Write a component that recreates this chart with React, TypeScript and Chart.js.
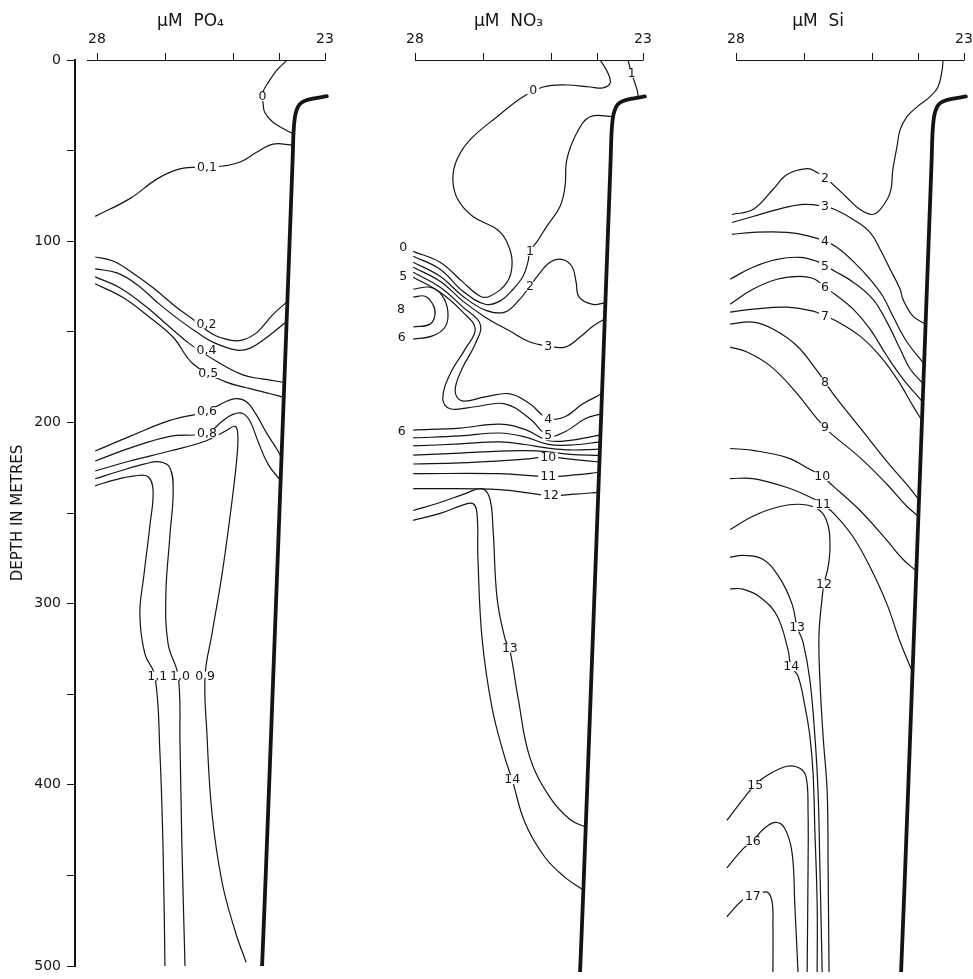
import React, { useEffect, useRef } from "react";
import { Chart, registerables } from "chart.js";

Chart.register(...registerables);

type Pt = [number, number];
type Lbl = { t: string; x: number; y: number };

const FONT = "'DejaVu Sans', 'Liberation Sans', sans-serif";
const INK = "#141414";

// ---- axes ----
const xTickValues = [28, 26.5, 25, 24, 23];
const xLabelled = [28, 23];
const depthTicks = [0, 50, 100, 150, 200, 250, 300, 350, 400, 450, 500];
const depthLabelled = [0, 100, 200, 300, 400, 500];

// ---- thick profile (same in every panel) ----
const profile: Pt[] = [
  [22.96, 20], [23.2, 21], [23.45, 22.6], [23.56, 24.5], [23.62, 27.5], [23.66, 31.5],
  [23.69, 40], [23.71, 55], [23.85, 150], [24.0, 250], [24.15, 350], [24.3, 450], [24.38, 500],
];

// ---- PO4 ----
const po4_0: Pt[] = [[23.83, 0], [24.05, 5.5], [24.25, 12.6], [24.36, 17.5], [24.37, 20.5], [24.36, 23.5], [24.32, 29], [24.14, 34.4], [23.88, 38.3], [23.68, 41]];
const po4_01: Pt[] = [[28.04, 86.3], [27.28, 76.5], [26.68, 65.6], [26.18, 60.1], [25.59, 59], [25.24, 58.5], [24.86, 56.3], [24.49, 50.8], [24.14, 46.4], [23.7, 47]];
const po4_02: Pt[] = [[28.04, 108.7], [27.65, 110.9], [27.28, 116.4], [26.77, 125.7], [26.25, 136.6], [25.89, 143.2], [25.46, 151.4], [25.08, 154.6], [24.82, 154.6], [24.49, 150.3], [24.14, 140.4], [23.8, 132.8]];
const po4_03: Pt[] = [[28.04, 115.3], [27.56, 117.5], [27.12, 124], [26.62, 135], [26.18, 143.7], [25.81, 150.3], [25.46, 155.7], [24.93, 160.1], [24.64, 159], [24.36, 154.6], [24.05, 148.6], [23.82, 143.7]];
const po4_04: Pt[] = [[28.04, 119.7], [27.5, 125.7], [26.9, 136.6], [26.4, 147.5], [25.96, 156.8], [25.35, 166.7], [24.8, 173.8], [24.38, 176], [23.87, 178]];
const po4_05: Pt[] = [[28.04, 123.5], [27.43, 131.1], [26.84, 142.1], [26.33, 153], [25.89, 167.8], [25.19, 177.5], [24.64, 181.4], [24.2, 184.2], [23.88, 186.3]];
const po4_06: Pt[] = [[28.04, 215.8], [27.28, 207.7], [26.4, 198.9], [25.59, 193.9], [25.26, 189.6], [24.97, 186.9], [24.73, 188.5], [24.51, 195.6], [24.29, 205.5], [24.03, 215.8], [23.95, 219.7]];
const po4_08: Pt[] = [[28.04, 221.3], [27.28, 214.2], [26.4, 207.7], [25.59, 206], [25.26, 199.5], [25.02, 195.6], [24.8, 195.1], [24.64, 199.5], [24.47, 210.4], [24.25, 223], [23.97, 232.2]];
const po4_09: Pt[] = [[28.04, 226.8], [27.28, 221.3], [26.4, 215.8], [25.63, 210.4], [25.19, 204.9], [24.97, 202.2], [24.91, 207.6], [24.95, 224], [25.08, 251.3], [25.26, 284.1], [25.48, 316.9], [25.63, 339.9], [25.59, 371.6], [25.48, 415.3], [25.26, 453.5], [24.97, 480.8], [24.73, 498]];
const po4_10: Pt[] = [[28.04, 231.1], [27.5, 226.8], [26.95, 222.9], [26.62, 221.8], [26.4, 225.1], [26.33, 237.7], [26.4, 262.3], [26.49, 295], [26.44, 322.4], [26.22, 339.9], [26.18, 377], [26.14, 431.7], [26.07, 500]];
const po4_11: Pt[] = [[28.04, 235], [27.61, 231.7], [27.17, 229.5], [26.88, 230], [26.77, 237.7], [26.84, 256.8], [26.97, 284.1], [27.06, 306], [26.95, 327.8], [26.73, 339.9], [26.62, 382.5], [26.55, 437.1], [26.51, 500]];
const po4Lines = [po4_0, po4_01, po4_02, po4_03, po4_04, po4_05, po4_06, po4_08, po4_09, po4_10, po4_11];
const po4Labels: Lbl[] = [
  { t: "0", x: 24.37, y: 20.2 }, { t: "0,1", x: 25.59, y: 59 }, { t: "0,2", x: 25.6, y: 145.7 },
  { t: "0,4", x: 25.6, y: 160.3 }, { t: "0,5", x: 25.56, y: 173 }, { t: "0,6", x: 25.59, y: 194 },
  { t: "0,8", x: 25.59, y: 206 }, { t: "1,1", x: 26.68, y: 340 }, { t: "1,0", x: 26.18, y: 340 },
  { t: "0,9", x: 25.63, y: 340 },
];

// ---- NO3 ----
const no3_0: Pt[] = [[23.94, 0], [23.77, 7.1], [23.72, 12.6], [23.88, 15.3], [24.16, 14.8], [24.67, 13.7], [25.19, 14.8], [25.63, 20.2], [26.2, 31.1], [26.79, 43.7], [27.08, 54.6], [27.17, 65.6], [27.06, 76.5], [26.73, 85.8], [26.2, 92.9], [25.98, 100], [25.87, 110.9], [25.98, 121.8], [26.36, 129.5], [26.57, 129.5], [26.95, 121.8], [27.45, 110.9], [28.04, 104.9]];
const no3_1a: Pt[] = [[23.33, 0], [23.25, 7.3], [23.13, 16.4], [23.1, 20.8]];
const no3_1b: Pt[] = [[23.64, 31], [24.16, 31.1], [24.45, 39.9], [24.67, 54.6], [24.71, 69.4], [24.82, 80.3], [25.11, 91.2], [25.32, 99.4], [25.48, 104.9], [25.52, 110.4], [25.63, 118.6], [25.85, 125.7], [26.14, 132.2], [26.46, 133.9], [26.95, 126.8], [27.45, 114.7], [28.04, 107.6]];
const no3_2: Pt[] = [[28.04, 110.9], [27.45, 118.6], [26.95, 129.5], [26.46, 137.1], [26.03, 138.2], [25.7, 131.1], [25.48, 124], [25.32, 118.6], [25.04, 110.9], [24.78, 109.3], [24.56, 113.1], [24.47, 121.3], [24.4, 130], [24.1, 134], [23.82, 133]];
const no3_3: Pt[] = [[28.04, 113.6], [27.45, 121.3], [26.95, 132.2], [26.46, 141], [25.92, 148.6], [25.48, 154.6], [25.08, 156.8], [24.71, 157.4], [24.38, 151.9], [24.1, 146], [23.84, 142]];
const no3_4: Pt[] = [[28.04, 116.4], [27.45, 124.6], [26.95, 135.5], [26.57, 144.8], [26.68, 155.7], [26.97, 169.4], [27.12, 181.4], [26.97, 186.9], [26.46, 184.7], [25.92, 183], [25.48, 188.5], [25.08, 196.7], [24.71, 195.6], [24.32, 188.5], [23.9, 183]];
const no3_5: Pt[] = [[28.04, 119.1], [27.45, 127.3], [26.95, 138.2], [26.68, 147.5], [26.9, 158.5], [27.23, 172.1], [27.39, 185.8], [27.23, 191.2], [26.68, 190.1], [26.03, 188.5], [25.48, 196.7], [25.08, 206], [24.71, 203.8], [24.27, 196.7], [23.92, 194]];
const no3_8: Pt[] = [[28.04, 130], [27.78, 129.5], [27.61, 133.9], [27.56, 139.3], [27.67, 144.8], [28.04, 146.4]];
const no3_6a: Pt[] = [[28.04, 125.7], [27.67, 124.6], [27.41, 129], [27.28, 137.7], [27.34, 146.4], [27.63, 151.4], [28.04, 153]];
const no3_6b: Pt[] = [[28.04, 202.9], [27.01, 201.8], [26.14, 199.6], [25.59, 202.5], [25.08, 208.6], [24.6, 208.5], [23.93, 205.5]];
const no3_7: Pt[] = [[28.04, 207.2], [27.01, 206.1], [26.14, 204.5], [25.59, 206.6], [25.08, 210.7], [24.6, 211.1], [23.93, 209.4]];
const no3_8b: Pt[] = [[28.04, 211.6], [27.01, 210.5], [26.14, 209.4], [25.59, 210.8], [25.08, 212.8], [24.6, 213.8], [23.94, 213.3]];
const no3_9: Pt[] = [[28.04, 216.6], [27.01, 215.5], [26.14, 214.4], [25.59, 214.2], [25.08, 214.8], [24.6, 216.2], [23.94, 216.8]];
const no3_10: Pt[] = [[28.04, 221.5], [27.01, 220.9], [26.14, 219.8], [25.59, 218.8], [25.08, 217.6], [24.6, 218.8], [23.95, 220.4]];
const no3_11: Pt[] = [[28.04, 226.8], [26.14, 226.8], [25.08, 228.4], [24.49, 227.5], [23.96, 226]];
const no3_12: Pt[] = [[28.04, 235], [26.14, 235.5], [25.02, 238.8], [24.49, 238], [23.97, 237]];
const no3_13: Pt[] = [[28.04, 247], [27.45, 242.6], [26.9, 237.7], [26.53, 235], [26.36, 240.4], [26.29, 256.8], [26.2, 295], [26.03, 316.9], [25.92, 323.5], [25.74, 349.7], [25.48, 382.5], [25.04, 404.3], [24.6, 416.4], [24.25, 420.7]];
const no3_14: Pt[] = [[28.04, 252.4], [27.45, 248.6], [26.97, 244.2], [26.73, 243.2], [26.64, 248.6], [26.62, 273.2], [26.53, 316.9], [26.31, 355.2], [26.03, 382.5], [25.87, 394.5], [25.59, 418], [25.15, 437.1], [24.71, 448.1], [24.31, 455]];
const no3Lines = [no3_0, no3_1a, no3_1b, no3_2, no3_3, no3_4, no3_5, no3_8, no3_6a, no3_6b, no3_7, no3_8b, no3_9, no3_10, no3_11, no3_12, no3_13, no3_14];
const no3Labels: Lbl[] = [
  { t: "0", x: 25.41, y: 16.4 }, { t: "1", x: 23.25, y: 7.3 }, { t: "1", x: 25.48, y: 104.9 },
  { t: "2", x: 25.48, y: 124 }, { t: "3", x: 25.08, y: 156.8 }, { t: "4", x: 25.08, y: 196.7 },
  { t: "5", x: 25.08, y: 206 }, { t: "0", x: 28.26, y: 102.7 }, { t: "5", x: 28.26, y: 118.6 },
  { t: "8", x: 28.31, y: 136.6 }, { t: "6", x: 28.29, y: 151.9 }, { t: "6", x: 28.29, y: 203.8 },
  { t: "10", x: 25.08, y: 217.6 }, { t: "11", x: 25.08, y: 228.4 }, { t: "12", x: 25.02, y: 238.8 },
  { t: "13", x: 25.92, y: 322.4 }, { t: "14", x: 25.87, y: 394.5 },
];

// ---- Si ----
const si2: Pt[] = [[23.46, 0], [23.48, 5.5], [23.57, 14.8], [23.75, 20.2], [24.03, 25.7], [24.25, 31.1], [24.4, 38.2], [24.47, 47.5], [24.56, 60.1], [24.62, 72.7], [24.84, 82], [25.02, 84.7], [25.28, 82], [25.57, 75.4], [25.87, 68.3], [26.05, 64.5], [26.22, 61.7], [26.44, 59.6], [26.88, 62.8], [27.19, 71], [27.63, 82], [28.09, 84.7]];
const si3: Pt[] = [[28.09, 89.1], [27.63, 85.8], [27.1, 82], [26.53, 79.2], [26.05, 80.3], [25.83, 82], [25.43, 87.4], [25.06, 94.5], [24.84, 103.8], [24.62, 114.7], [24.4, 125.7], [24.34, 131.1], [24.12, 140.4], [23.84, 144.8]];
const si4: Pt[] = [[28.09, 95.6], [27.63, 94.5], [26.88, 94.5], [26.38, 96.7], [26.05, 99.3], [25.79, 102.7], [25.43, 110.4], [25.06, 120.2], [24.78, 129.5], [24.56, 140.4], [24.25, 154.6], [23.87, 166.7]];
const si5: Pt[] = [[28.13, 120.2], [27.63, 113.6], [27.1, 109.3], [26.6, 108.2], [26.22, 110.4], [26.05, 112.9], [25.83, 115.8], [25.43, 121.8], [25.0, 131.1], [24.69, 143.7], [24.4, 158.5], [24.18, 169.4], [23.89, 177.6]];
const si6: Pt[] = [[28.13, 133.9], [27.63, 125.7], [27.1, 120.2], [26.6, 118.6], [26.27, 120.2], [26.05, 124.7], [25.83, 128.4], [25.43, 136.6], [25.06, 147.5], [24.69, 162.3], [24.34, 174.8], [23.91, 187.4]];
const si7: Pt[] = [[28.13, 138.2], [27.63, 136.6], [26.88, 135.5], [26.31, 137.7], [26.05, 140.4], [25.79, 143.2], [25.28, 151.4], [24.84, 162.3], [24.47, 174.8], [24.12, 189.6], [23.92, 197.8]];
const si8: Pt[] = [[28.13, 144.8], [27.63, 143.7], [27.19, 147.5], [26.66, 156.8], [26.22, 170.5], [26.05, 176.5], [25.87, 183], [25.28, 201.6], [24.69, 220.2], [24.25, 232.8], [23.99, 241]];
const si9: Pt[] = [[28.13, 157.4], [27.76, 160.1], [27.25, 167.7], [26.75, 180.3], [26.22, 196.7], [26.05, 201.6], [25.87, 205.8], [25.28, 218], [24.69, 232.6], [24.25, 244.8], [24.0, 250.1]];
const si10: Pt[] = [[28.13, 213], [27.63, 214], [26.88, 218], [26.38, 224.4], [26.11, 228.4], [25.87, 233.6], [25.28, 247], [24.69, 263.4], [24.34, 273.7], [24.05, 280]];
const si11: Pt[] = [[28.13, 229.5], [27.63, 229.5], [26.88, 234.4], [26.31, 240.4], [26.09, 243.7], [25.83, 249.2], [25.43, 261.5], [25.06, 278], [24.69, 298.3], [24.4, 319.1], [24.13, 335.5]];
const si12: Pt[] = [[28.13, 257.4], [27.63, 250.1], [27.04, 244.8], [26.53, 243.7], [26.16, 247], [25.98, 255.2], [25.94, 267.7], [25.98, 278], [26.07, 287.2], [26.11, 294.5], [26.18, 315], [26.16, 339.9], [26.09, 370.7], [26.0, 401.6], [25.98, 442.9], [25.96, 500]];
const si13: Pt[] = [[28.13, 272.7], [27.85, 271.6], [27.41, 273.7], [27.04, 284.1], [26.77, 298.3], [26.66, 310.9], [26.53, 319.1], [26.38, 339.9], [26.27, 370.7], [26.2, 401.6], [26.16, 442.9], [26.11, 500]];
const si14: Pt[] = [[28.13, 289.9], [27.85, 290.1], [27.47, 294.5], [27.1, 304.7], [26.86, 323.3], [26.79, 332.6], [26.64, 337.7], [26.49, 354.1], [26.38, 370.7], [26.31, 391.2], [26.27, 422.4], [26.22, 463.3], [26.22, 500]];
const si15: Pt[] = [[28.2, 416.9], [27.8, 403.8], [27.58, 397.5], [27.32, 392.3], [26.88, 387.2], [26.6, 388.3], [26.46, 393.4], [26.42, 412], [26.42, 442.9], [26.44, 500]];
const si16: Pt[] = [[28.2, 442.9], [27.85, 432.6], [27.63, 428.4], [27.43, 422.4], [27.14, 418], [26.93, 421.3], [26.77, 434.7], [26.71, 463.3], [26.64, 500]];
const si17: Pt[] = [[28.2, 469.7], [27.85, 460.4], [27.63, 458.4], [27.32, 456.2], [27.21, 461.4], [27.19, 473.7], [27.19, 500]];
const siLines = [si2, si3, si4, si5, si6, si7, si8, si9, si10, si11, si12, si13, si14, si15, si16, si17];
const siLabels: Lbl[] = [
  { t: "2", x: 26.05, y: 64.7 }, { t: "3", x: 26.05, y: 80.3 }, { t: "4", x: 26.05, y: 99.3 },
  { t: "5", x: 26.05, y: 112.9 }, { t: "6", x: 26.05, y: 124.7 }, { t: "7", x: 26.05, y: 140.4 },
  { t: "8", x: 26.05, y: 176.5 }, { t: "9", x: 26.05, y: 201.6 }, { t: "10", x: 26.11, y: 228.4 },
  { t: "11", x: 26.09, y: 243.7 }, { t: "12", x: 26.07, y: 287.2 }, { t: "13", x: 26.66, y: 310.9 },
  { t: "14", x: 26.79, y: 332.6 }, { t: "15", x: 27.58, y: 397.5 }, { t: "16", x: 27.63, y: 428.4 },
  { t: "17", x: 27.63, y: 458.4 },
];

// ---- layout (pixels) ----
const CANVAS_W = 1000;
const CANVAS_H = 979;
const X_MAX = 28.4825;
const X_MIN = 22.8904;
const AREA_W = 255;
const PANELS = [
  { title: "\u03bcM  PO\u2084", titleX: 25.95, axisFrom: 28.22, lines: po4Lines, labels: po4Labels, left: 75, depth: true },
  { title: "\u03bcM  NO\u2083", titleX: 25.95, axisFrom: 28, lines: no3Lines, labels: no3Labels, left: 393, depth: false },
  { title: "\u03bcM  Si", titleX: 26.2, axisFrom: 28, lines: siLines, labels: siLabels, left: 714, depth: false },
];

const toXY = (pts: Pt[]) => pts.map(([x, y]) => ({ x, y }));

function makeConfig(p: (typeof PANELS)[number]): any {
  const decor = {
    id: "decor",
    afterDatasetsDraw(chart: any) {
      const { ctx, chartArea, scales } = chart;
      const xs = scales.x, ys = scales.y;
      ctx.save();
      ctx.strokeStyle = INK;
      ctx.lineWidth = 1;
      ctx.beginPath();
      const ty = chartArea.top + 0.5;
      ctx.moveTo(xs.getPixelForValue(p.axisFrom), ty);
      ctx.lineTo(xs.getPixelForValue(23) + 0.5, ty);
      ctx.stroke();
      ctx.fillStyle = INK;
      ctx.font = `17px ${FONT}`;
      ctx.textAlign = "center";
      ctx.textBaseline = "middle";
      ctx.fillText(p.title, xs.getPixelForValue(p.titleX), 22);
      ctx.font = `12.5px ${FONT}`;
      for (const l of p.labels) {
        const px = xs.getPixelForValue(l.x);
        const py = ys.getPixelForValue(l.y);
        const w = ctx.measureText(l.t).width;
        ctx.fillStyle = "#ffffff";
        ctx.fillRect(px - w / 2 - 2, py - 4.5, w + 4, 9);
        ctx.fillStyle = INK;
        ctx.fillText(l.t, px, py + 0.5);
      }
      ctx.restore();
    },
  };
  return {
    type: "line",
    data: {
      datasets: [
        { data: toXY(profile), borderColor: INK, borderWidth: 3.8, borderCapStyle: "round", tension: 0.35, pointRadius: 0, fill: false },
        ...p.lines.map((l) => ({ data: toXY(l), borderColor: INK, borderWidth: 1.2, tension: 0.4, pointRadius: 0, fill: false })),
      ],
    },
    options: {
      animation: false,
      responsive: false,
      events: [],
      layout: { padding: { left: p.depth ? 0 : p.left, right: CANVAS_W - (p.left + AREA_W), top: 0, bottom: 7 } },
      plugins: { legend: { display: false }, tooltip: { enabled: false } },
      scales: {
        x: {
          type: "linear",
          position: "top",
          reverse: true,
          min: X_MIN,
          max: X_MAX,
          afterBuildTicks: (s: any) => { s.ticks = xTickValues.map((v) => ({ value: v })); },
          afterFit: (s: any) => { s.height = 60; },
          border: { display: false },
          grid: { display: true, drawOnChartArea: false, drawTicks: true, tickLength: 7, color: INK, lineWidth: 1 },
          ticks: {
            autoSkip: false, maxRotation: 0, padding: 5, color: INK,
            font: { family: FONT, size: 14 },
            callback: (v: number) => (xLabelled.includes(v) ? String(v) : ""),
          },
        },
        y: {
          type: "linear",
          reverse: true,
          min: 0,
          max: 500,
          display: p.depth,
          afterBuildTicks: (s: any) => { s.ticks = depthTicks.map((v) => ({ value: v })); },
          afterFit: (s: any) => { s.width = p.depth ? 75 : 0; },
          border: { display: true, color: INK, width: 2 },
          grid: { display: true, drawOnChartArea: false, drawTicks: true, tickLength: 8, color: INK, lineWidth: 1 },
          ticks: {
            autoSkip: false, padding: 6, color: INK,
            font: { family: FONT, size: 14, lineHeight: 1 },
            callback: (v: number) => (depthLabelled.includes(v) ? String(v) : ""),
          },
          title: { display: true, text: "DEPTH IN METRES", color: INK, font: { family: FONT, size: 15 }, padding: { top: 9, bottom: 0 } },
        },
      },
    },
    plugins: [decor],
  };
}

export default function App() {
  const r0 = useRef<HTMLCanvasElement>(null);
  const r1 = useRef<HTMLCanvasElement>(null);
  const r2 = useRef<HTMLCanvasElement>(null);
  useEffect(() => {
    const refs = [r0, r1, r2];
    const charts = PANELS.map((p, i) => new Chart(refs[i].current as HTMLCanvasElement, makeConfig(p)));
    return () => charts.forEach((c) => c.destroy());
  }, []);
  const cs: React.CSSProperties = { position: "absolute", left: 0, top: 0 };
  return (
    <div style={{ position: "absolute", left: 0, top: 0, width: 973, height: 979, background: "#ffffff", overflow: "hidden" }}>
      <canvas ref={r0} width={CANVAS_W} height={CANVAS_H} style={cs} />
      <canvas ref={r1} width={CANVAS_W} height={CANVAS_H} style={cs} />
      <canvas ref={r2} width={CANVAS_W} height={CANVAS_H} style={cs} />
    </div>
  );
}
